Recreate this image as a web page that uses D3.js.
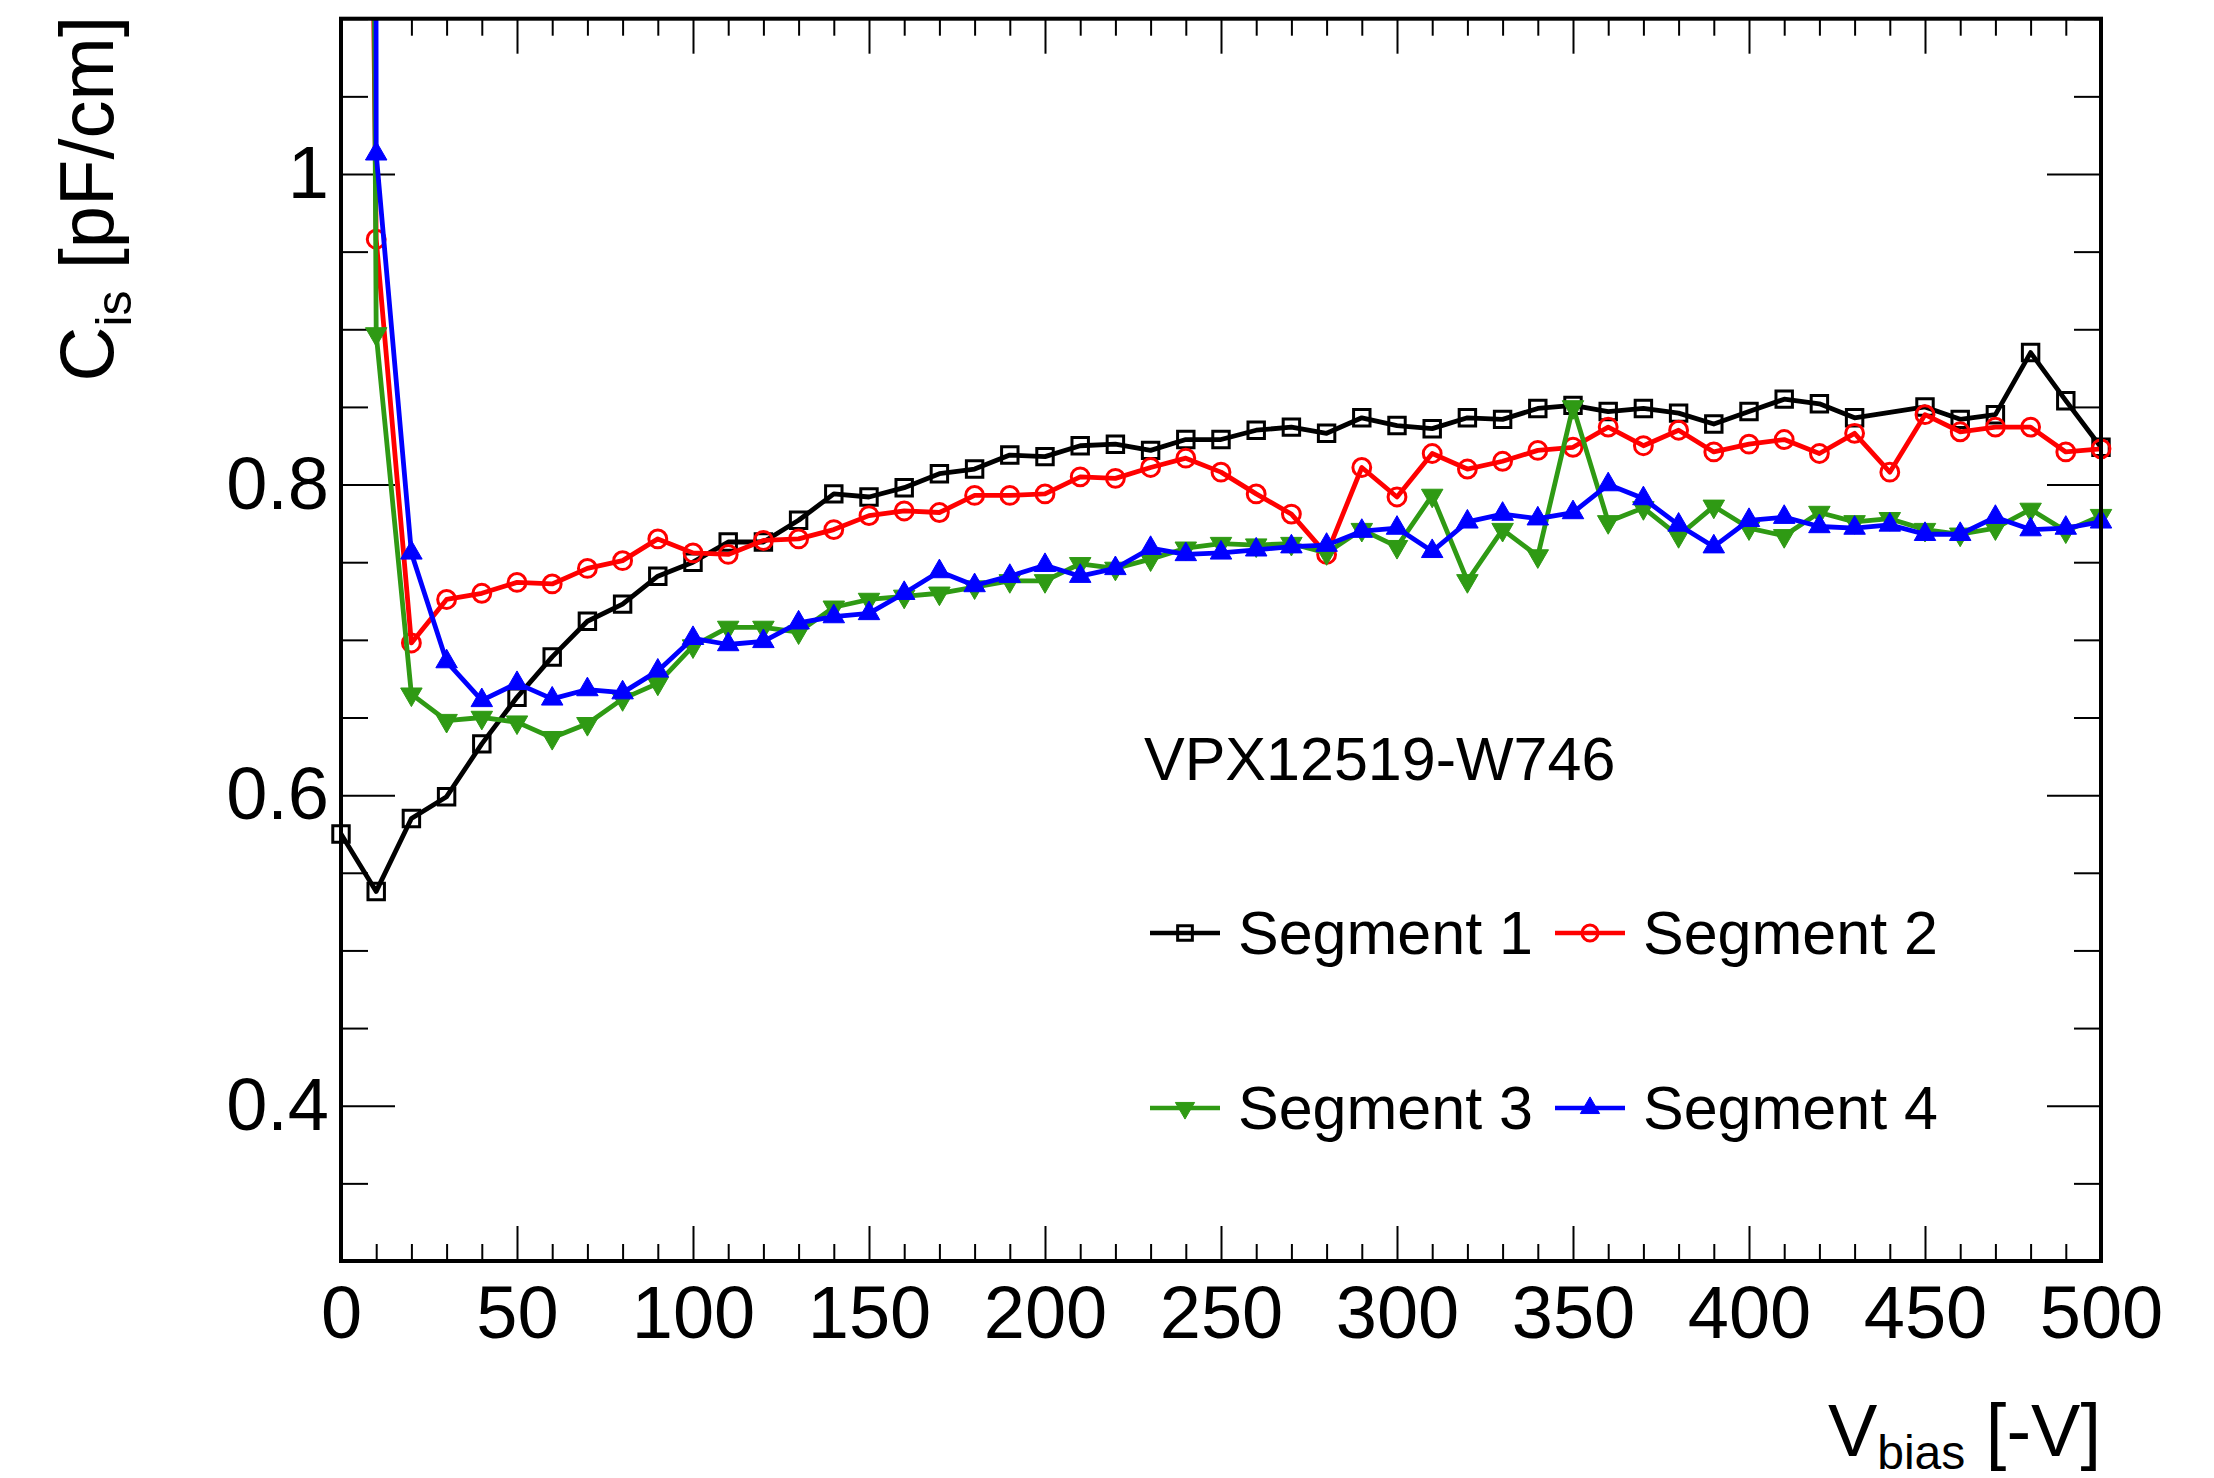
<!DOCTYPE html>
<html><head><meta charset="utf-8">
<script src="https://cdn.jsdelivr.net/npm/d3@7"></script>
<style>
body{margin:0;background:#fff}
svg{display:block}
text{font-family:"Liberation Sans",Arial,Helvetica,sans-serif;fill:#000}
</style>
</head><body>
<svg id="chart" width="2214" height="1478"></svg>
<script>
// ---------------- data ----------------
const voltage = [0,10,20,30,40,50,60,70,80,90,100,110,120,130,140,150,160,170,180,190,200,
  210,220,230,240,250,260,270,280,290,300,310,320,330,340,350,360,370,380,390,400,
  410,420,430,440,450,460,470,480,490,500];

// Segment 1 (no measurement at 440 V)
const seg1 = [0.575,0.538,0.585,0.599,0.633,0.663,0.689,0.712,0.723,0.741,0.750,0.763,0.763,0.777,0.794,0.792,0.798,0.807,0.810,0.819,0.818,
  0.825,0.826,0.822,0.829,0.829,0.835,0.837,0.833,0.843,0.838,0.836,0.843,0.842,0.849,0.851,0.847,0.849,0.846,0.839,0.847,
  0.855,0.852,0.843,null,0.850,0.842,0.845,0.885,0.854,0.824];
// first points of segments 2-4 are far above the visible range
const seg2 = [3.0,0.958,0.698,0.726,0.730,0.737,0.736,0.746,0.751,0.765,0.756,0.755,0.764,0.765,0.771,0.780,0.783,0.782,0.793,0.793,0.794,
  0.805,0.804,0.811,0.817,0.808,0.794,0.781,0.755,0.811,0.792,0.820,0.810,0.815,0.822,0.824,0.837,0.825,0.835,0.821,0.826,
  0.829,0.820,0.833,0.808,0.845,0.834,0.837,0.837,0.821,0.823];
const seg3 = [5.0,0.897,0.665,0.648,0.650,0.647,0.637,0.646,0.662,0.672,0.696,0.708,0.708,0.705,0.721,0.726,0.728,0.730,0.734,0.738,0.738,
  0.749,0.746,0.752,0.759,0.762,0.761,0.762,0.756,0.771,0.760,0.793,0.738,0.771,0.754,0.850,0.776,0.785,0.767,0.786,0.772,
  0.767,0.782,0.776,0.778,0.771,0.768,0.772,0.784,0.770,0.780];
const seg4 = [20.0,1.013,0.756,0.686,0.661,0.672,0.662,0.668,0.666,0.680,0.701,0.697,0.699,0.711,0.715,0.717,0.730,0.744,0.735,0.741,0.748,
  0.741,0.746,0.759,0.755,0.756,0.758,0.760,0.761,0.770,0.772,0.757,0.776,0.781,0.778,0.782,0.800,0.791,0.774,0.760,0.777,
  0.779,0.773,0.772,0.774,0.768,0.768,0.779,0.771,0.772,0.776];

const seriesNames = ["Segment 1","Segment 2","Segment 3","Segment 4"];
const seriesValues = [seg1, seg2, seg3, seg4];
const seriesColors = ["#000000","#ff0000","#2f9a14","#0000ff"];
const seriesMarkers = ["openSquare","openCircle","fullTriangleDown","fullTriangleUp"];

const xMajorTicks = [0,50,100,150,200,250,300,350,400,450,500];
const yMajorTicks = [0.4,0.6,0.8,1.0];
const yTickLabels = ["0.4","0.6","0.8","1"];
const sampleLabel = "VPX12519-W746";

// ---------------- layout ----------------
const L = 341, R = 2101, T = 18.7, B = 1261;
const svg = d3.select("#chart");
const x = d3.scaleLinear().domain([0,500]).range([L,R]);
const y = d3.scaleLinear().domain([0.3,1.1]).range([B,T]);

const xMinor = d3.range(0,501,10).filter(v => v % 50 !== 0);
const yMinor = d3.range(0.3,1.1001,0.05).map(v=>+v.toFixed(2)).filter(v => !yMajorTicks.some(m=>Math.abs(m-v)<1e-6));

function styleAxis(g){
  g.select(".domain").remove();
  g.selectAll(".tick line").attr("stroke","#000").attr("stroke-width",2);
  g.selectAll(".tick text").attr("font-size",74).attr("font-family","Liberation Sans, Arial, sans-serif").attr("fill","#000");
}
// bottom
svg.append("g").attr("transform",`translate(0,${B})`)
  .call(d3.axisBottom(x).tickValues(xMajorTicks).tickSizeInner(-35).tickSizeOuter(0).tickPadding(24).tickFormat(d3.format("d")))
  .call(styleAxis);
svg.append("g").attr("transform",`translate(0,${B})`)
  .call(d3.axisBottom(x).tickValues(xMinor).tickSizeInner(-17).tickSizeOuter(0).tickFormat(""))
  .call(styleAxis);
// top
svg.append("g").attr("transform",`translate(0,${T})`)
  .call(d3.axisTop(x).tickValues(xMajorTicks).tickSizeInner(-35).tickSizeOuter(0).tickFormat(""))
  .call(styleAxis);
svg.append("g").attr("transform",`translate(0,${T})`)
  .call(d3.axisTop(x).tickValues(xMinor).tickSizeInner(-17).tickSizeOuter(0).tickFormat(""))
  .call(styleAxis);
// left
svg.append("g").attr("transform",`translate(${L},0)`)
  .call(d3.axisLeft(y).tickValues(yMajorTicks).tickSizeInner(-54).tickSizeOuter(0).tickPadding(12)
    .tickFormat((d,i)=>yTickLabels[i]))
  .call(styleAxis);
svg.append("g").attr("transform",`translate(${L},0)`)
  .call(d3.axisLeft(y).tickValues(yMinor).tickSizeInner(-27).tickSizeOuter(0).tickFormat(""))
  .call(styleAxis);
// right
svg.append("g").attr("transform",`translate(${R},0)`)
  .call(d3.axisRight(y).tickValues(yMajorTicks).tickSizeInner(-54).tickSizeOuter(0).tickFormat(""))
  .call(styleAxis);
svg.append("g").attr("transform",`translate(${R},0)`)
  .call(d3.axisRight(y).tickValues(yMinor).tickSizeInner(-27).tickSizeOuter(0).tickFormat(""))
  .call(styleAxis);

// clip
svg.append("defs").append("clipPath").attr("id","plotClip")
  .append("rect").attr("x",L).attr("y",T).attr("width",R-L).attr("height",B-T);

// markers
function markerPath(kind, scale=1){
  if (kind==="openSquare") return d3.symbol(d3.symbolSquare, 270*scale)();
  if (kind==="openCircle") return d3.symbol(d3.symbolCircle, 250*scale)();
  return d3.symbol(d3.symbolTriangle, 200*scale)();
}
function drawMarker(g, kind, color, cx, cy, scale=1){
  const p = g.append("path").attr("d", markerPath(kind, scale))
    .attr("transform", `translate(${cx},${cy})` + (kind==="fullTriangleDown" ? " rotate(180)" : ""));
  if (kind.startsWith("open")) p.attr("fill","none").attr("stroke",color).attr("stroke-width",3);
  else p.attr("fill",color).attr("stroke",color).attr("stroke-width",1);
}

const line = d3.line().x(d=>x(d.v)).y(d=>y(d.c));
seriesValues.forEach((vals, si) => {
  const pts = voltage.map((v,i)=>({v, c: vals[i]})).filter(d => d.c !== null);
  svg.append("path").datum(pts)
    .attr("clip-path","url(#plotClip)")
    .attr("fill","none").attr("stroke",seriesColors[si]).attr("stroke-width",4.8)
    .attr("stroke-linejoin","round")
    .attr("d", line);
  const mg = svg.append("g");
  pts.filter(d => d.c <= 1.1 && d.c >= 0.3).forEach(d => {
    drawMarker(mg, seriesMarkers[si], seriesColors[si], x(d.v), y(d.c));
  });
});

// frame
svg.append("rect").attr("x",L).attr("y",T).attr("width",R-L).attr("height",B-T)
  .attr("fill","none").attr("stroke","#000").attr("stroke-width",4);

// axis titles
const yt = svg.append("text").attr("transform","translate(113,16) rotate(-90)")
  .attr("text-anchor","end").attr("font-size",76);
yt.append("tspan").text("C");
yt.append("tspan").attr("font-size",50).attr("dy",18).text("is");
yt.append("tspan").attr("dy",-18).text(" [pF/cm]");

const xt = svg.append("text").attr("x",R).attr("y",1456)
  .attr("text-anchor","end").attr("font-size",74);
xt.append("tspan").text("V");
xt.append("tspan").attr("font-size",48).attr("dy",13).text("bias");
xt.append("tspan").attr("dy",-13).text(" [-V]");

// sample label
svg.append("text").attr("x",1144).attr("y",780).attr("font-size",61).text(sampleLabel);

// legend
const legCols = [1150, 1555];
const legRows = [933, 1108];
seriesNames.forEach((name, i) => {
  const lx = legCols[i % 2], ly = legRows[Math.floor(i / 2)];
  const g = svg.append("g");
  g.append("line").attr("x1",lx).attr("x2",lx+70).attr("y1",ly).attr("y2",ly)
    .attr("stroke",seriesColors[i]).attr("stroke-width",4.5);
  drawMarker(g, seriesMarkers[i], seriesColors[i], lx+35, ly, 0.8);
  g.append("text").attr("x",lx+88).attr("y",ly+21).attr("font-size",61).text(name);
});
</script>
</body></html>
